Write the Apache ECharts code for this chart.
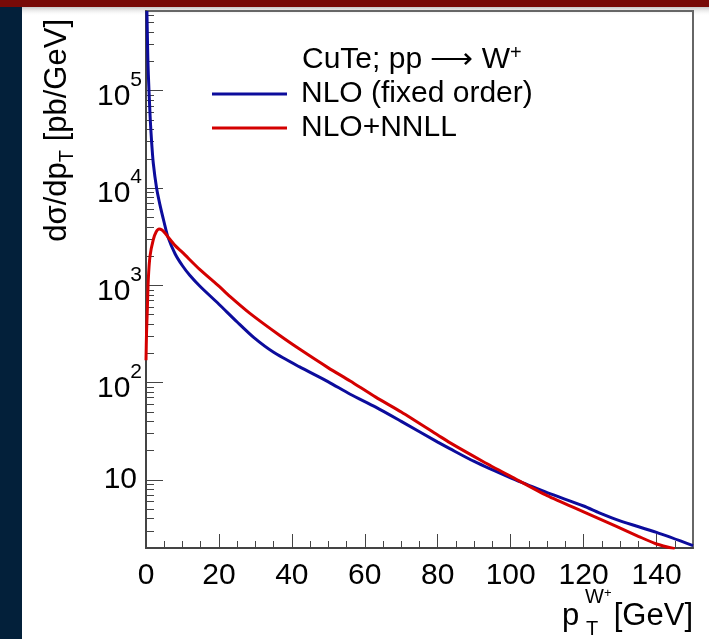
<!DOCTYPE html>
<html>
<head>
<meta charset="utf-8">
<script src="https://cdn.jsdelivr.net/npm/echarts@6/dist/echarts.min.js"></script>
<style>
  html, body { margin: 0; padding: 0; background: #ffffff; }
  #chart { width: 709px; height: 639px; }
</style>
</head>
<body>
<div id="chart"></div>
<script>
// W+ transverse-momentum spectrum, CuTe: fixed-order NLO vs resummed NLO+NNLL
const FONT = "'Liberation Sans', Arial, Helvetica, sans-serif";

// axis ticks
const xMajorTicks = [0, 20, 40, 60, 80, 100, 120, 140];
const xMinorTicks = [5, 10, 15, 25, 30, 35, 45, 50, 55, 65, 70, 75, 85, 90, 95,
                     105, 110, 115, 125, 130, 135, 145];
const yMajorTicks = [10, 100, 1000, 10000, 100000];
const yMinorTicks = [3, 4, 5, 6, 7, 8, 9,
                     20, 30, 40, 50, 60, 70, 80, 90,
                     200, 300, 400, 500, 600, 700, 800, 900,
                     2000, 3000, 4000, 5000, 6000, 7000, 8000, 9000,
                     20000, 30000, 40000, 50000, 60000, 70000, 80000, 90000,
                     200000, 300000, 400000, 500000, 600000];

// NLO (fixed order): pT [GeV] -> dsigma/dpT [pb/GeV]
const nloPt  = [0.25, 0.35, 0.5, 0.65, 0.82, 1.0, 1.2, 1.56, 2.0, 2.9, 3.8, 5.0, 6.0, 8.0, 10, 12, 14.8,
                20, 25, 29.6, 35, 42, 50, 56, 63, 70, 80, 83.3, 90, 100, 104.4, 110, 120, 124.3, 130, 140, 150];
const nloVal = [660000, 420000, 220000, 145000, 100000, 70000, 48000, 29000, 18000, 10000, 6800, 4400, 3150,
                2100, 1590, 1270, 980, 640, 420, 290, 205, 146, 102, 76, 56, 40, 24.5, 21, 15.5, 10.5, 9.0, 7.4,
                5.4, 4.6, 3.8, 2.9, 2.12];

// NLO+NNLL: pT [GeV] -> dsigma/dpT [pb/GeV]
const nnllPt  = [0, 0.15, 0.36, 0.63, 1.1, 2.0, 2.8, 3.6, 4.4, 5.2, 6.0, 8.0, 10, 14.8, 20, 23,
                 28.5, 36.7, 42.2, 50, 56, 63, 70, 80, 83.3, 92.4, 100, 110, 120, 129, 135, 140, 145];
const nnllVal = [170, 330, 560, 1150, 2000, 2950, 3550, 3800, 3700, 3450, 3150, 2560, 2180, 1450, 980, 770,
                 515, 305, 220, 142, 104, 71, 50, 29, 24.2, 15.5, 10.9, 6.9, 4.7, 3.33, 2.64, 2.2, 1.97];

const seriesNames = ['NLO (fixed order)', 'NLO+NNLL'];
const seriesColors = ['#0c0c9c', '#d40000'];

const pairs = (xs, ys) => xs.map((x, i) => [x, ys[i]]);

const chart = echarts.init(document.getElementById('chart'), null, { renderer: 'canvas' });

// decade labels: "10" plain, others as 10 with a raised exponent
const decadeLabel = (v) => {
  const e = Math.round(Math.log10(v));
  if (e === 1) return '{p|10}';
  return '{z| }{b|10}{s|' + e + '}';
};

const option = {
  backgroundColor: '#ffffff',
  animation: false,
  title: {
    text: 'CuTe; pp \u27f6 W{s|+}',
    left: 302,
    top: 43,
    padding: 0,
    textStyle: {
      fontFamily: FONT, fontSize: 30, fontWeight: 'normal', color: '#000', lineHeight: 34,
      rich: { s: { fontFamily: FONT, fontSize: 20, verticalAlign: 'top', lineHeight: 20, color: '#000' } }
    }
  },
  legend: {
    data: seriesNames,
    orient: 'vertical',
    left: 212,
    top: 77,
    padding: 0,
    itemGap: 0,
    itemWidth: 75,
    itemHeight: 3,
    icon: 'rect',
    selectedMode: false,
    textStyle: { fontFamily: FONT, fontSize: 30, color: '#000', lineHeight: 34, padding: [0, 0, 0, 9] }
  },
  grid: {
    left: 146, right: 16, top: 11, bottom: 91,
    show: true, borderColor: '#666', borderWidth: 2, backgroundColor: 'transparent',
    outerBoundsMode: 'none', containLabel: false
  },
  xAxis: [
    {
      type: 'value', min: 0, max: 150, position: 'bottom',
      axisLine: { show: true, lineStyle: { color: '#444', width: 2 } },
      splitLine: { show: false },
      axisTick: { show: true, inside: true, length: 14, customValues: xMajorTicks,
                  lineStyle: { color: '#444', width: 1 } },
      axisLabel: { customValues: xMajorTicks, fontFamily: FONT, fontSize: 30, color: '#000',
                   margin: 13, lineHeight: 30 }
    },
    {
      type: 'value', min: 0, max: 150, position: 'bottom', offset: 0,
      axisLine: { show: false },
      splitLine: { show: false },
      axisTick: { show: true, inside: true, length: 7, customValues: xMinorTicks,
                  lineStyle: { color: '#444', width: 1 } },
      axisLabel: { show: false }
    }
  ],
  yAxis: [
    {
      type: 'log', logBase: 10, min: 2, max: 660000, position: 'left',
      axisLine: { show: true, lineStyle: { color: '#444', width: 2 } },
      splitLine: { show: false },
      axisTick: { show: true, inside: true, length: 17, customValues: yMajorTicks,
                  lineStyle: { color: '#444', width: 1 } },
      axisLabel: {
        customValues: yMajorTicks, formatter: decadeLabel, margin: 4, color: '#000',
        fontFamily: FONT, fontSize: 30,
        rich: {
          p: { fontFamily: FONT, fontSize: 30, lineHeight: 30, padding: [0, 5, 0, 0], color: '#000' },
          z: { fontFamily: FONT, fontSize: 1, lineHeight: 42, color: 'rgba(0,0,0,0)' },
          b: { fontFamily: FONT, fontSize: 30, lineHeight: 30, verticalAlign: 'bottom', color: '#000' },
          s: { fontFamily: FONT, fontSize: 21, lineHeight: 38, verticalAlign: 'top', color: '#000' }
        }
      }
    },
    {
      type: 'log', logBase: 10, min: 2, max: 660000, position: 'left', offset: 0,
      axisLine: { show: false },
      splitLine: { show: false },
      axisTick: { show: true, inside: true, length: 8, customValues: yMinorTicks,
                  lineStyle: { color: '#444', width: 1 } },
      axisLabel: { show: false }
    }
  ],
  series: [
    {
      name: seriesNames[0], type: 'line', data: pairs(nloPt, nloVal),
      showSymbol: false, smooth: 0.25, clip: true,
      lineStyle: { color: seriesColors[0], width: 3 }, itemStyle: { color: seriesColors[0] }, z: 3
    },
    {
      name: seriesNames[1], type: 'line', data: pairs(nnllPt, nnllVal),
      showSymbol: false, smooth: 0.25, clip: true,
      lineStyle: { color: seriesColors[1], width: 3 }, itemStyle: { color: seriesColors[1] }, z: 4
    }
  ],
  graphic: [
    // slide frame: top band with its shadow, left band
    { type: 'rect', shape: { x: 0, y: 7, width: 709, height: 9 }, silent: true, z: -1,
      style: { fill: new echarts.graphic.LinearGradient(0, 0, 0, 1, [
        { offset: 0, color: '#c8c8c8' }, { offset: 1, color: 'rgba(255,255,255,0)' }]) } },
    { type: 'rect', shape: { x: 0, y: 0, width: 709, height: 7 }, silent: true,
      style: { fill: '#780b08' } },
    { type: 'rect', shape: { x: 0, y: 7, width: 22, height: 632 }, silent: true,
      style: { fill: '#03203a' } },
    // y-axis title
    { type: 'text', x: 57, y: 19, rotation: Math.PI / 2, silent: true,
      style: {
        text: 'd\u03c3/dp{sub|T} [pb/GeV]', fontFamily: FONT, fontSize: 31, fill: '#000',
        align: 'right', verticalAlign: 'middle', lineHeight: 40,
        rich: { sub: { fontFamily: FONT, fontSize: 20, lineHeight: 20, verticalAlign: 'bottom', fill: '#000' } }
      } },
    // x-axis title
    { type: 'text', x: 693, y: 616, silent: true,
      style: { text: '[GeV]', fontFamily: FONT, fontSize: 31, fill: '#000', align: 'right', verticalAlign: 'middle' } },
    { type: 'text', x: 562, y: 616, silent: true,
      style: { text: 'p', fontFamily: FONT, fontSize: 31, fill: '#000', align: 'left', verticalAlign: 'middle' } },
    { type: 'text', x: 585, y: 597, silent: true,
      style: { text: 'W{s|+}', fontFamily: FONT, fontSize: 20, fill: '#000', align: 'left', verticalAlign: 'middle',
               lineHeight: 20, rich: { s: { fontFamily: FONT, fontSize: 13, lineHeight: 13, verticalAlign: 'top', fill: '#000' } } } },
    { type: 'text', x: 586, y: 629, silent: true,
      style: { text: 'T', fontFamily: FONT, fontSize: 20, fill: '#000', align: 'left', verticalAlign: 'middle' } }
  ]
};

chart.setOption(option);
</script>
</body>
</html>
